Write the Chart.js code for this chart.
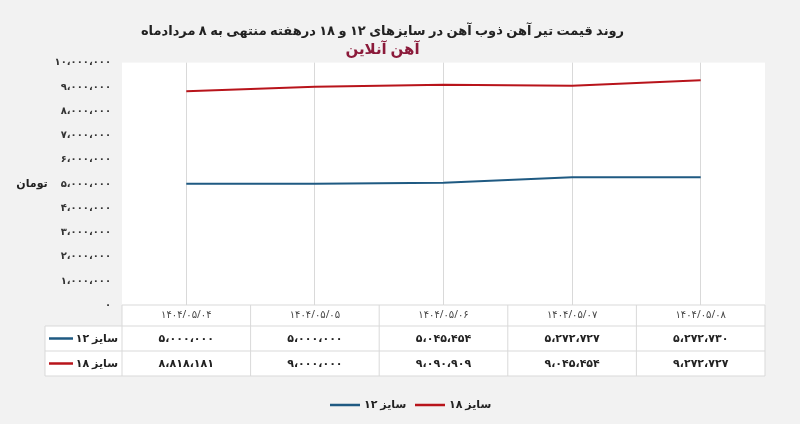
<!DOCTYPE html>
<html><head><meta charset="utf-8">
<script src="https://cdn.jsdelivr.net/npm/chart.js@4"></script>
<style>html,body{margin:0;background:#f2f2f2}#wrap{width:800px;height:424px}</style>
</head><body><div id="wrap"><canvas id="c" width="800" height="424"></canvas></div>
<script>
const dates = ['۱۴۰۴/۰۵/۰۴', '۱۴۰۴/۰۵/۰۵', '۱۴۰۴/۰۵/۰۶', '۱۴۰۴/۰۵/۰۷', '۱۴۰۴/۰۵/۰۸'];
const size12 = [5000000, 5000000, 5045454, 5272727, 5272730];
const size18 = [8818181, 9000000, 9090909, 9045454, 9272727];
const seriesNames = ['سایز ۱۲', 'سایز ۱۸'];
const colors = ['#1f5a82', '#b8141b'];

function fa(n) {
    return n.toString().replace(/\B(?=(\d{3})+(?!\d))/g, '،').replace(/\d/g, d => '۰۱۲۳۴۵۶۷۸۹'[d]);
}
const font = '"Noto Sans", "DejaVu Sans", sans-serif';

// جدول زیر نمودار و راهنما
const tablePlugin = {
    id: 'table',
    afterDraw(chart) {
        const ctx = chart.ctx, a = chart.chartArea, x = chart.scales.x;
        const rows = [a.bottom, a.bottom + 21, a.bottom + 46, a.bottom + 71];
        const left = 45, step = (a.right - a.left) / dates.length;
        ctx.save();
        ctx.strokeStyle = '#d9d9d9';
        ctx.lineWidth = 1;
        ctx.fillStyle = '#fff';
        ctx.fillRect(left, rows[1], a.right - left, rows[3] - rows[1]);
        ctx.fillRect(a.left, rows[0], a.right - a.left, rows[1] - rows[0]);
        ctx.beginPath();
        for (let i = 0; i <= dates.length; i++) {
            const cx = a.left + i * step;
            ctx.moveTo(cx, rows[0]); ctx.lineTo(cx, rows[3]);
        }
        ctx.moveTo(left, rows[1]); ctx.lineTo(left, rows[3]);
        ctx.moveTo(a.left, rows[0]); ctx.lineTo(a.right, rows[0]);
        [1, 2, 3].forEach(r => { ctx.moveTo(left, rows[r]); ctx.lineTo(a.right, rows[r]); });
        ctx.stroke();
        ctx.textAlign = 'center';
        ctx.textBaseline = 'middle';
        ctx.fillStyle = '#444';
        ctx.font = '10px ' + font;
        dates.forEach((d, i) => ctx.fillText(d, x.getPixelForValue(i), (rows[0] + rows[1]) / 2));
        ctx.font = 'bold 11px ' + font;
        ctx.fillStyle = '#222';
        [size12, size18].forEach((s, r) => {
            const cy = (rows[r + 1] + rows[r + 2]) / 2;
            s.forEach((v, i) => ctx.fillText(fa(v), x.getPixelForValue(i), cy));
            ctx.textAlign = 'right';
            ctx.fillText(seriesNames[r], a.left - 4, cy);
            ctx.strokeStyle = colors[r];
            ctx.lineWidth = 2.5;
            ctx.beginPath();
            ctx.moveTo(left + 4, cy); ctx.lineTo(left + 28, cy);
            ctx.stroke();
            ctx.textAlign = 'center';
        });
        // راهنما
        const ly = 405;
        [[330, 0], [415, 1]].forEach(([lx, r]) => {
            ctx.strokeStyle = colors[r];
            ctx.lineWidth = 2.5;
            ctx.beginPath();
            ctx.moveTo(lx, ly); ctx.lineTo(lx + 30, ly);
            ctx.stroke();
            ctx.textAlign = 'left';
            ctx.fillText(seriesNames[r], lx + 34, ly);
        });
        // عنوان محور
        ctx.textAlign = 'center';
        ctx.fillText('تومان', 32, chart.scales.y.getPixelForValue(5000000));
        ctx.restore();
    }
};

new Chart(document.getElementById('c'), {
    type: 'line',
    data: {
        labels: dates,
        datasets: [
            { label: seriesNames[0], data: size12, borderColor: colors[0], backgroundColor: colors[0], borderWidth: 2, pointRadius: 0, tension: 0 },
            { label: seriesNames[1], data: size18, borderColor: colors[1], backgroundColor: colors[1], borderWidth: 2, pointRadius: 0, tension: 0 }
        ]
    },
    options: {
        responsive: false,
        animation: false,
        layout: { padding: { top: 6, right: 35, bottom: 119, left: 0 } },
        plugins: {
            title: {
                display: true,
                text: 'روند قیمت تیر آهن ذوب آهن در سایزهای ۱۲ و ۱۸ درهفته منتهی به ۸ مردادماه',
                color: '#222',
                font: { family: font, size: 13, weight: 'bold' },
                padding: { top: 17, bottom: 2 }
            },
            subtitle: {
                display: true,
                text: 'آهن آنلاین',
                color: '#8b1a3a',
                font: { family: font, size: 15, weight: 'bold' },
                padding: { bottom: 4 }
            },
            legend: { display: false },
            tooltip: { enabled: false }
        },
        scales: {
            x: {
                offset: true,
                grid: { offset: false, color: '#d9d9d9', drawTicks: false },
                border: { display: false },
                ticks: { display: false }
            },
            y: {
                min: 0, max: 10000000,
                afterFit(s) { s.width = 122; },
                grid: { display: false },
                border: { display: false },
                ticks: {
                    stepSize: 1000000,
                    color: '#333',
                    font: { family: font, size: 10, weight: 'bold' },
                    callback: v => fa(v)
                }
            }
        }
    },
    plugins: [tablePlugin, {
        id: 'bg',
        beforeDraw(chart) {
            const ctx = chart.ctx, a = chart.chartArea;
            ctx.save();
            ctx.fillStyle = '#fff';
            ctx.fillRect(a.left, a.top, a.right - a.left, a.bottom - a.top);
            ctx.restore();
        }
    }]
});
</script>
</body></html>
